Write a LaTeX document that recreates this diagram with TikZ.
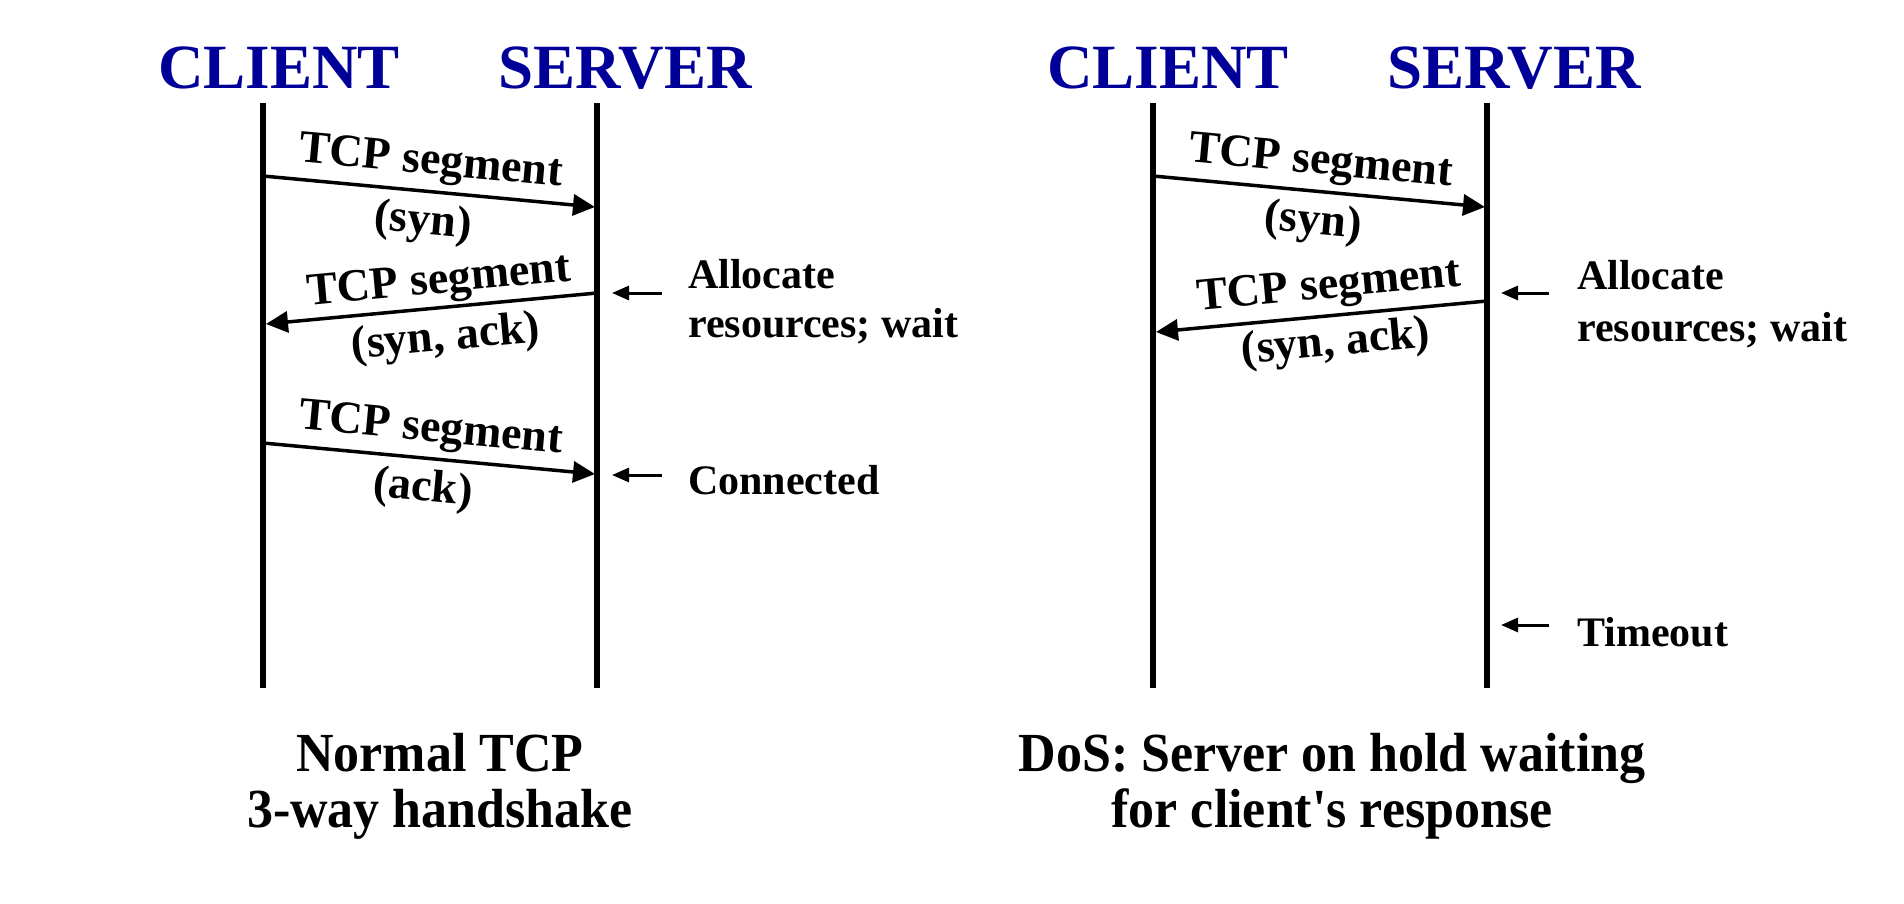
\documentclass[tikz,border=0pt]{standalone}
\usepackage{fontspec}
\setmainfont{Liberation Serif}[Ligatures=TeXOff]
\usetikzlibrary{arrows.meta}
\definecolor{titleblue}{RGB}{0,0,153}
\begin{document}
\begin{tikzpicture}[x=1pt,y=-1pt,
  titletext/.style={font=\fontsize{63}{70}\selectfont\bfseries, text=titleblue, inner sep=0pt, anchor=base},
  segtext/.style={font=\fontsize{46}{50}\selectfont\bfseries, inner sep=0pt, anchor=base},
  notetext/.style={font=\fontsize{42}{50}\selectfont\bfseries, inner sep=0pt, anchor=base west},
  captext/.style={font=\fontsize{52}{56}\selectfont\bfseries, inner sep=0pt, anchor=base, yscale=1.06},
  lifeline/.style={line width=5.5pt},
  msgarrow/.style={line width=3.5pt, -{Triangle[length=22pt,width=21pt]}},
  pointer/.style={line width=3pt, -{Triangle[length=17pt,width=14pt]}}
]
\fill[white] (0,0) rectangle (1904,904);
\useasboundingbox (0,0) rectangle (1904,904);

% ---------- Left panel ----------
\node[titletext] (lclient) at (279,89) {CLIENT};
\node[titletext] (lserver) at (625,89) {SERVER};
\coordinate (lct) at (263,103); \coordinate (lcb) at (263,688);
\coordinate (lst) at (597,103); \coordinate (lsb) at (597,688);
\draw[lifeline] (lct) -- (lcb);
\draw[lifeline] (lst) -- (lsb);

\coordinate (la1s) at (263,176); \coordinate (la1e) at (595,207);
\coordinate (la2s) at (597,293); \coordinate (la2e) at (266,324);
\coordinate (la3s) at (263,443); \coordinate (la3e) at (595,474);
\draw[msgarrow] (la1s) -- (la1e);
\draw[msgarrow] (la2s) -- (la2e);
\draw[msgarrow] (la3s) -- (la3e);

\node[segtext, rotate=-5.3] (lseg1) at (430,174) {TCP segment};
\node[segtext, rotate=-5.3] (lsyn1) at (422,234) {(syn)};
\node[segtext, rotate=5.3] (lseg2) at (440,293) {TCP segment};
\node[segtext, rotate=5.3] (lsynack2) at (447,350) {(syn, ack)};
\node[segtext, rotate=-5.3] (lseg3) at (430,441) {TCP segment};
\node[segtext, rotate=-5.3] (lack3) at (422,501) {(ack)};

\coordinate (lp1s) at (662,293); \coordinate (lp1e) at (612,293);
\coordinate (lp2s) at (662,475); \coordinate (lp2e) at (612,475);
\draw[pointer] (lp1s) -- (lp1e);
\draw[pointer] (lp2s) -- (lp2e);
\node[notetext] (lalloc) at (688,288) {Allocate};
\node[notetext] (lres) at (688,337) {resources; wait};
\node[notetext] (lconn) at (688,494) {Connected};

\node[captext] (lcap1) at (440,771) {Normal TCP};
\node[captext] (lcap2) at (440,827) {3-way handshake};

% ---------- Right panel ----------
\node[titletext] (rclient) at (1168,89) {CLIENT};
\node[titletext] (rserver) at (1514,89) {SERVER};
\coordinate (rct) at (1153,103); \coordinate (rcb) at (1153,688);
\coordinate (rst) at (1487,103); \coordinate (rsb) at (1487,688);
\draw[lifeline] (rct) -- (rcb);
\draw[lifeline] (rst) -- (rsb);

\coordinate (ra1s) at (1153,176); \coordinate (ra1e) at (1485,207);
\coordinate (ra2s) at (1487,301); \coordinate (ra2e) at (1156,332);
\draw[msgarrow] (ra1s) -- (ra1e);
\draw[msgarrow] (ra2s) -- (ra2e);

\node[segtext, rotate=-5.3] (rseg1) at (1320,174) {TCP segment};
\node[segtext, rotate=-5.3] (rsyn1) at (1312,234) {(syn)};
\node[segtext, rotate=5.3] (rseg2) at (1330,298) {TCP segment};
\node[segtext, rotate=5.3] (rsynack2) at (1337,355) {(syn, ack)};

\coordinate (rp1s) at (1549,293); \coordinate (rp1e) at (1501,293);
\coordinate (rp2s) at (1549,625); \coordinate (rp2e) at (1501,625);
\draw[pointer] (rp1s) -- (rp1e);
\draw[pointer] (rp2s) -- (rp2e);
\node[notetext] (ralloc) at (1577,290) {Allocate};
\node[notetext] (rres) at (1577,341) {resources; wait};
\node[notetext] (rtime) at (1577,646) {Timeout};

\node[captext] (rcap1) at (1332,771) {DoS: Server on hold waiting};
\node[captext] (rcap2) at (1332,827) {for client's response};
\end{tikzpicture}
\end{document}
